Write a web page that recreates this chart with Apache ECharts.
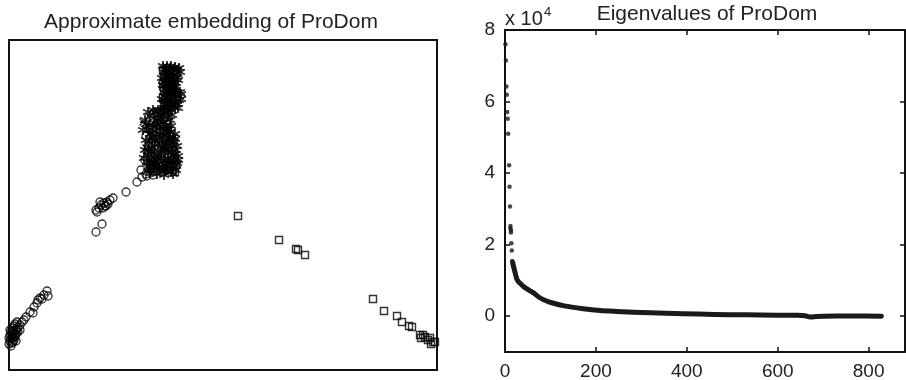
<!DOCTYPE html>
<html><head><meta charset="utf-8">
<script src="https://cdn.jsdelivr.net/npm/echarts@6/dist/echarts.min.js"></script>
<style>html,body{margin:0;padding:0;background:#fff}#c{width:906px;height:380px}</style>
</head><body><div id="c"></div>
<script>
// ---- Left panel: approximate 2-D embedding (arbitrary units) ----
var embCircles = [
  [38,79],[35,75],[39,74],[31,72],[29,70],[33,71],[28,67],[25,63],[21,58],[24,57],
  [17,53],[15,50],[13,48],[11,45],[9,43],[7,41],[5,39],[9,38],[4,36],[3,34],[6,33],
  [2,31],[1,29],[3,27],[0,26],[5,30],[7,36],[11,40],[2,24],[4,28],[6,35],[8,40],
  [1,40],[3,42],[5,44],[1,35],[4,32],[7,29],[0,32],[2,38],[6,46],[8,48],
  [87,138],[93,146],[88,158],[90,162],[92,165],[95,167],[94,162],[98,168],[101,170],[97,164],
  [91,168],[96,164],[99,166],[87,160],
  [104,172],[117,178],[128,188],[133,193],[137,196],[141,198],[144,195],
  [151,258],[156,253],[159,246],[141,242],[137,234],[157,232],[139,224],[159,222],
  [136,210],[143,204],[132,200],[138,194],[147,199],[153,198],[161,264],[155,240]
];
var embSquares = [
  [154,300],[161,299],[155,293],[154,286],[155,279],[154,272],[155,266],[156,260],
  [163,210],[161,204],[166,198],[167,205],
  [229,154],[270,130],[287,121],[289,120],[296,115],
  [364,71],[375,59],[388,54],[393,48],[400,44],[403,43],[411,35],[414,35],[412,32],
  [416,33],[419,30],[421,32],[424,28],[422,26],[426,28]
];
var embStars = [
  [157,301],[161,302],[165,301],[168,300],[171,298],[159,296],[164,295],[168,293],
  [157,290],[162,288],[167,287],[160,282],[165,281],[158,276],[163,274],[171,278],
  [170,270],[161,269],[166,267],[169,262],[159,262],[155,298],[163,298],[155,284],
  [161,278],[156,270],[164,284],[167,275],
  [154,304],[158,304],[162,304],[166,303],[170,302],[153,292],[157,293],[161,292],
  [165,290],[169,290],[154,285],[158,286],[162,284],[166,283],[155,278],[159,279],
  [163,278],[167,277],[153,271],[157,272],[161,274],[165,271],[168,266],[155,266],
  [159,266],[163,264],[172,276],[172,271],
  [156,300],[160,296],[164,292],[168,296],[156,288],[160,286],[164,287],[157,281],
  [161,282],[166,279],[158,268],[162,267],[166,262],[162,260],[157,262],
  [146,258],[151,256],[156,257],[141,254],[149,251],[154,248],[161,250],[137,246],
  [144,243],[151,242],[158,240],[141,236],[148,234],[154,235],[161,232],[146,229],
  [153,227],[159,226],[165,228],[143,222],[149,220],[156,220],[162,218],[167,220],
  [139,215],[146,213],[152,212],[159,212],[165,210],[141,208],[148,206],[155,205],
  [161,205],[144,202],[151,200],[157,199],[167,205],[169,214],
  [139,258],[144,260],[149,260],[154,260],[159,258],[163,255],
  [136,250],[146,247],[151,246],[157,245],[162,244],
  [134,240],[139,240],[147,239],[154,239],[161,238],[166,236],
  [137,230],[143,230],[150,230],[156,231],[163,224],[168,224],
  [136,220],[142,218],[152,217],[159,217],[164,215],[169,210],
  [135,212],[143,210],[149,210],[156,209],[163,202],[167,200],
  [139,203],[146,204],[153,203],[159,200],[164,196],[141,197],[148,196],[155,195],
  [145,252],[152,252],[158,253],[140,245],[148,245],[155,243],[160,241],[143,236],
  [151,236],[158,235],[164,233],[140,226],[146,225],[153,224],[160,229],[166,231],
  [139,219],[145,216],[155,222],[161,221],[166,216],[138,208],[145,207],[151,214],
  [158,207],[162,210],[168,207],[142,200],[150,203],[156,201],[162,198]
];
var embCrosses = [[134,248],[143,232],[137,222]];

// ---- Right panel: eigenvalues ----
var eigTop = [
  [1,76000],[2,71500],[3,64200],[4,61900],[5,57100],[6,55200],[7,51000],[9,42200],
  [10,36200],[11,30700],[12,25200],[12,24600],[13,24000],[13,23400],[14,20400],
  [15,18400],[16,15400],[17,14600],[18,14000]
];
var eigTail = [
  [17,15000],[18,14400],[19,13900],[20,13300],[22,12300],[24,11300],[26,10400],
  [30,9600],[35,9000],[40,8400],[50,7500],[62,6600],[75,5300],[85,4600],[99,3900],
  [130,2900],[172,2100],[209,1600],[246,1350],[319,950],[391,700],[460,500],
  [530,400],[598,300],[640,250],[660,150],[672,-200],[685,-100],[700,0],[760,50],[828,0]
];
var yTicks = [0,20000,40000,60000,80000];
var xTicks = [0,200,400,600,800];

var FONT = "'Liberation Sans', Arial, Helvetica, sans-serif";
var chart = echarts.init(document.getElementById('c'));
var starPath = 'path://M5,0L5,10M0.7,2.5L9.3,7.5M9.3,2.5L0.7,7.5';
var crossPath = 'path://M0,0L10,10M10,0L0,10';
function mk(sym,size,w){return {symbol:sym,symbolSize:size,itemStyle:{color:'transparent',borderColor:'#000',borderWidth:w}};}
function axLine(){return {show:true,onZero:false,lineStyle:{color:'#111',width:2}};}
function ticks(vals){return {show:true,inside:true,length:5,customValues:vals,lineStyle:{color:'#111',width:1.5}};}

var option = {
  animation:false,
  backgroundColor:'#fff',
  graphic:[
    {type:'text',x:211,y:22,style:{text:'Approximate embedding of ProDom',font:'21px '+FONT,fill:'#222',align:'center',verticalAlign:'middle'}},
    {type:'text',x:707,y:14,style:{text:'Eigenvalues of ProDom',font:'21px '+FONT,fill:'#222',align:'center',verticalAlign:'middle'}},
    {type:'text',x:505,y:19,style:{text:'x 10',font:'20px '+FONT,fill:'#222',align:'left',verticalAlign:'middle'}},
    {type:'text',x:544,y:12,style:{text:'4',font:'13px '+FONT,fill:'#222',align:'left',verticalAlign:'middle'}}
  ],
  grid:[
    {left:9,top:40,width:428,height:330,show:true,borderColor:'#111',borderWidth:2,backgroundColor:'#fff',outerBoundsMode:'none'},
    {left:505,top:30,width:400,height:322,outerBoundsMode:'none'}
  ],
  xAxis:[
    {gridIndex:0,type:'value',min:0,max:428,show:false},
    {gridIndex:1,type:'value',min:0,max:880,position:'bottom',
     axisLine:axLine(), axisTick:ticks(xTicks),
     axisLabel:{show:true,customValues:xTicks,margin:10,fontSize:19,fontFamily:FONT,color:'#222',
       formatter:function(v){return String(v);}},
     splitLine:{show:false}},
    {gridIndex:1,type:'value',min:0,max:880,position:'top',
     axisLine:axLine(), axisTick:ticks(xTicks),
     axisLabel:{show:true,customValues:xTicks,color:'transparent',formatter:function(){return '';}},splitLine:{show:false}}
  ],
  yAxis:[
    {gridIndex:0,type:'value',min:0,max:330,show:false},
    {gridIndex:1,type:'value',min:-10000,max:80000,position:'left',
     axisLine:axLine(), axisTick:ticks(yTicks),
     axisLabel:{show:true,customValues:yTicks,margin:10,fontSize:19,fontFamily:FONT,color:'#222',
       formatter:function(v){return String(Math.round(v/10000));}},
     splitLine:{show:false}},
    {gridIndex:1,type:'value',min:-10000,max:80000,position:'right',
     axisLine:axLine(), axisTick:ticks(yTicks),
     axisLabel:{show:true,customValues:yTicks,color:'transparent',formatter:function(){return '';}},splitLine:{show:false}}
  ],
  series:[
    Object.assign({type:'scatter',xAxisIndex:0,yAxisIndex:0,data:embCircles,clip:true},mk('circle',8,1.3)),
    Object.assign({type:'scatter',xAxisIndex:0,yAxisIndex:0,data:embSquares,clip:true},mk('rect',7,1.4)),
    Object.assign({type:'scatter',xAxisIndex:0,yAxisIndex:0,data:embStars,clip:true},mk(starPath,10,1.9)),
    Object.assign({type:'scatter',xAxisIndex:0,yAxisIndex:0,data:embCrosses,clip:true},mk(crossPath,7,1.4)),
    {type:'line',xAxisIndex:1,yAxisIndex:1,data:eigTail,smooth:0.3,showSymbol:false,
     lineStyle:{color:'#1a1a1a',width:5,cap:'round',join:'round'}},
    {type:'scatter',xAxisIndex:1,yAxisIndex:1,data:eigTop,symbol:'circle',symbolSize:4.5,
     itemStyle:{color:'#1a1a1a'}}
  ]
};
chart.setOption(option);
</script></body></html>
